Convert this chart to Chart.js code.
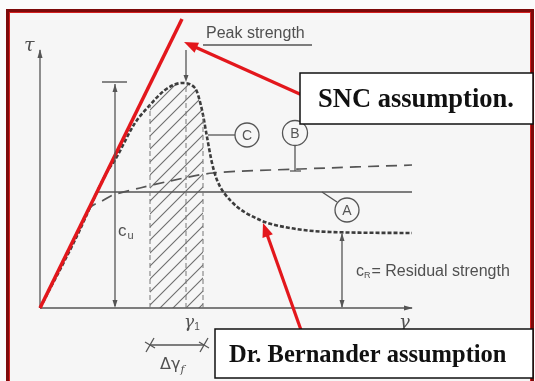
<!DOCTYPE html>
<html><head><meta charset="utf-8">
<script src="https://cdn.jsdelivr.net/npm/chart.js@4"></script>
<style>html,body{margin:0;padding:0;background:#fff;overflow:hidden}</style>
</head><body>
<canvas id="c" width="535" height="381"></canvas>
<script>
// Diagram units: strain (γ) to the right of origin, shear stress (τ) up from origin
const sncX = [0, 142];
const sncY = [0, 289];
const lineAX = [0, 57, 372];
const lineAY = [0, 116, 116];
const lineBX = [0, 50, 62, 73, 100, 130, 173, 260, 372];
const lineBY = [0, 100, 107, 113, 120, 127, 135, 139, 143];
const curveCX = [0, 35, 67, 75, 95, 110, 125, 142, 155, 162, 167, 172, 177, 190, 220, 250, 290, 372];
const curveCY = [0, 68, 136, 148, 185, 203, 218, 225, 220, 198, 171, 145, 128, 108, 88, 80, 76, 75];
const hatchX = [110, 125, 142, 155, 162, 163];
const hatchY = [203, 218, 225, 220, 198, 193];
const axisXX = [0, 372];
const axisXY = [0, 0];
const axisYX = [0, 0];
const axisYY = [0, 258];

function pts(xs, ys) { return xs.map((x, i) => ({ x, y: ys[i] })); }

const cv = document.getElementById('c');
const ctx = cv.getContext('2d');
const pc = document.createElement('canvas');
pc.width = 13; pc.height = 13;
const g = pc.getContext('2d');
g.strokeStyle = '#6e6e6e'; g.lineWidth = 1.1;
g.beginPath();
g.moveTo(-1, 14); g.lineTo(14, -1);
g.moveTo(-2, 2); g.lineTo(2, -2);
g.moveTo(11, 15); g.lineTo(15, 11);
g.stroke();
const hatchPattern = ctx.createPattern(pc, 'repeat');

const GREY = '#555';
const RED = '#e3171c';
const SANS = '"Liberation Sans", Arial, sans-serif';
const SERIF = '"Liberation Serif", "Times New Roman", serif';

const bgPlugin = {
  id: 'bg',
  beforeDraw(chart) {
    const c = chart.ctx;
    c.save();
    c.fillStyle = '#fbfbfb';
    c.fillRect(0, 0, 535, 381);
    c.fillStyle = '#f6f6f6';
    c.fillRect(9, 12, 522, 369);
    c.strokeStyle = '#7d0a0a';
    c.lineWidth = 3;
    c.strokeRect(7.5, 10.5, 525, 380);
    c.strokeStyle = '#d42020';
    c.lineWidth = 1;
    c.strokeRect(9.5, 12.5, 521, 376);
    c.restore();
  }
};

function P(ch, x, y) { return [ch.scales.x.getPixelForValue(x), ch.scales.y.getPixelForValue(y)]; }
function seg(c, a, b, color, w, dash) {
  c.save(); c.strokeStyle = color; c.lineWidth = w; c.setLineDash(dash || []);
  c.beginPath(); c.moveTo(a[0], a[1]); c.lineTo(b[0], b[1]); c.stroke(); c.restore();
}
function head(c, from, to, len, wid, color) {
  const ang = Math.atan2(to[1] - from[1], to[0] - from[0]);
  c.save(); c.translate(to[0], to[1]); c.rotate(ang); c.fillStyle = color;
  c.beginPath(); c.moveTo(0, 0); c.lineTo(-len, wid / 2); c.lineTo(-len, -wid / 2); c.closePath(); c.fill(); c.restore();
}
function txt(c, s, p, font, color, align) {
  c.save(); c.font = font; c.fillStyle = color; c.textAlign = align || 'left'; c.textBaseline = 'alphabetic';
  c.fillText(s, p[0], p[1]); const w = c.measureText(s).width; c.restore(); return w;
}
function circ(c, p, r, letter) {
  c.save(); c.strokeStyle = GREY; c.lineWidth = 1.3; c.beginPath(); c.arc(p[0], p[1], r, 0, Math.PI * 2); c.stroke();
  c.font = '14px ' + SANS; c.fillStyle = GREY; c.textAlign = 'center'; c.textBaseline = 'middle';
  c.fillText(letter, p[0], p[1] + 1); c.restore();
}
function box(c, a, b) {
  c.save(); c.fillStyle = '#ffffff'; c.fillRect(a[0], a[1], b[0] - a[0], b[1] - a[1]);
  c.strokeStyle = '#111'; c.lineWidth = 1.5; c.strokeRect(a[0], a[1], b[0] - a[0], b[1] - a[1]); c.restore();
}
function redArrow(c, tail, tip) {
  const ang = Math.atan2(tip[1] - tail[1], tip[0] - tail[0]);
  const end = [tip[0] - Math.cos(ang) * 9, tip[1] - Math.sin(ang) * 9];
  seg(c, tail, end, RED, 3.2);
  head(c, tail, tip, 14, 11, RED);
}

const annoPlugin = {
  id: 'anno',
  afterDatasetsDraw(ch) {
    const c = ch.ctx;
    // axis arrowheads
    head(c, P(ch, 0, 0), P(ch, 0, 259), 9, 5, GREY);
    head(c, P(ch, 0, 0), P(ch, 373, 0), 9, 5, GREY);
    // hatch boundaries
    seg(c, P(ch, 110, 0), P(ch, 110, 203), '#777', 1, [5, 3]);
    seg(c, P(ch, 146, 0), P(ch, 146, 224), '#777', 1, [5, 3]);
    seg(c, P(ch, 163, 0), P(ch, 163, 193), '#777', 1, [5, 3]);
    // peak strength leader
    seg(c, P(ch, 146, 258), P(ch, 146, 230), GREY, 1.3);
    head(c, P(ch, 146, 258), P(ch, 146, 226), 7, 5, GREY);
    seg(c, P(ch, 163, 263), P(ch, 272, 263), GREY, 1.3);
    txt(c, 'Peak strength', P(ch, 166, 270), '16px ' + SANS, '#505050');
    // cu
    seg(c, P(ch, 75, 2), P(ch, 75, 224), GREY, 1.3);
    seg(c, P(ch, 62, 226), P(ch, 87, 226), GREY, 1.4);
    head(c, P(ch, 75, 100), P(ch, 75, 0), 8, 5, GREY);
    head(c, P(ch, 75, 100), P(ch, 75, 224), 8, 5, GREY);
    let w = txt(c, 'c', P(ch, 78, 72), '17px ' + SANS, '#505050');
    txt(c, 'u', [P(ch, 78, 72)[0] + w + 1, P(ch, 78, 72)[1] + 3], '11px ' + SANS, '#505050');
    // cR
    seg(c, P(ch, 302, 1), P(ch, 302, 74), GREY, 1.3);
    head(c, P(ch, 302, 40), P(ch, 302, 0), 8, 5, GREY);
    head(c, P(ch, 302, 40), P(ch, 302, 75), 8, 5, GREY);
    const rp = P(ch, 316, 32);
    w = txt(c, 'c', rp, '16px ' + SANS, '#505050');
    const w2 = txt(c, 'R', [rp[0] + w, rp[1] + 2], '9px ' + SANS, '#505050');
    txt(c, '= Residual strength', [rp[0] + w + w2 + 1, rp[1]], '16px ' + SANS, '#505050');
    // circled labels
    circ(c, P(ch, 207, 173), 12, 'C');
    seg(c, P(ch, 168, 173), P(ch, 195, 173), GREY, 1.3);
    circ(c, P(ch, 255, 175), 12.5, 'B');
    seg(c, P(ch, 255, 162), P(ch, 255, 137), GREY, 1.3);
    seg(c, P(ch, 250, 137), P(ch, 261, 137), GREY, 1.3);
    circ(c, P(ch, 307, 98), 12, 'A');
    seg(c, P(ch, 282, 116), P(ch, 297, 106), GREY, 1.3);
    // axis labels
    txt(c, 'τ', P(ch, -16, 257), 'italic 19px "DejaVu Serif", serif', '#505050');
    txt(c, 'γ', P(ch, 359, -20), 'italic 18px "DejaVu Serif", serif', '#505050');
    w = txt(c, 'γ', P(ch, 144, -19), 'italic 17px "DejaVu Serif", serif', '#505050');
    txt(c, '1', [P(ch, 144, -19)[0] + w, P(ch, 144, -19)[1] + 3], '10px ' + SANS, '#505050');
    // delta gamma f
    seg(c, P(ch, 110, -37), P(ch, 164, -37), GREY, 1.3);
    [110, 164].forEach(x => {
      const p = P(ch, x, -37);
      seg(c, [p[0] - 4, p[1] + 7], [p[0] + 4, p[1] - 7], GREY, 1.3);
      seg(c, [p[0] - 5, p[1] - 3], [p[0] + 5, p[1] + 3], GREY, 1.3);
    });
    const dp = P(ch, 120, -61);
    w = txt(c, 'Δγ', dp, '16px "DejaVu Sans", sans-serif', '#505050');
    txt(c, 'f', [dp[0] + w, dp[1] + 4], 'italic 11px "DejaVu Serif", serif', '#505050');
    // red annotation arrows
    redArrow(c, P(ch, 262, 213), P(ch, 144, 266));
    redArrow(c, P(ch, 261, -22), P(ch, 223, 85));
    // callout boxes
    box(c, P(ch, 260, 235), P(ch, 493, 184));
    txt(c, 'SNC assumption.', P(ch, 278, 201), 'bold 26.5px ' + SERIF, '#111');
    box(c, P(ch, 175, -21), P(ch, 493, -70));
    txt(c, 'Dr. Bernander assumption', P(ch, 189, -54), 'bold 24.5px ' + SERIF, '#111');
  }
};

new Chart(ctx, {
  type: 'scatter',
  data: {
    datasets: [
      { label: 'SNC assumption', data: pts(sncX, sncY), showLine: true, borderColor: RED, borderWidth: 3.5, pointRadius: 0, order: 0 },
      { label: 'C', data: pts(curveCX, curveCY), showLine: true, borderColor: '#3c3c3c', borderWidth: 2.6, borderDash: [4, 2], cubicInterpolationMode: 'monotone', pointRadius: 0, order: 1 },
      { label: 'B', data: pts(lineBX, lineBY), showLine: true, borderColor: GREY, borderWidth: 1.7, borderDash: [11, 7], tension: 0.3, pointRadius: 0, order: 2 },
      { label: 'A', data: pts(lineAX, lineAY), showLine: true, borderColor: GREY, borderWidth: 1.3, pointRadius: 0, order: 3 },
      { label: 'γ axis', data: pts(axisXX, axisXY), showLine: true, borderColor: GREY, borderWidth: 1.3, pointRadius: 0, order: 4 },
      { label: 'τ axis', data: pts(axisYX, axisYY), showLine: true, borderColor: GREY, borderWidth: 1.3, pointRadius: 0, order: 4 },
      { label: 'Δγf', data: pts(hatchX, hatchY), showLine: true, borderColor: 'rgba(0,0,0,0)', borderWidth: 1, fill: 'origin', backgroundColor: hatchPattern, cubicInterpolationMode: 'monotone', pointRadius: 0, order: 9 }
    ]
  },
  options: {
    responsive: false, animation: false, devicePixelRatio: 1,
    layout: { padding: 0 },
    plugins: { legend: { display: false }, tooltip: { enabled: false } },
    scales: {
      x: { type: 'linear', min: -40, max: 495, display: false },
      y: { type: 'linear', min: -73, max: 308, display: false }
    }
  },
  plugins: [bgPlugin, annoPlugin]
});
</script>
</body></html>
